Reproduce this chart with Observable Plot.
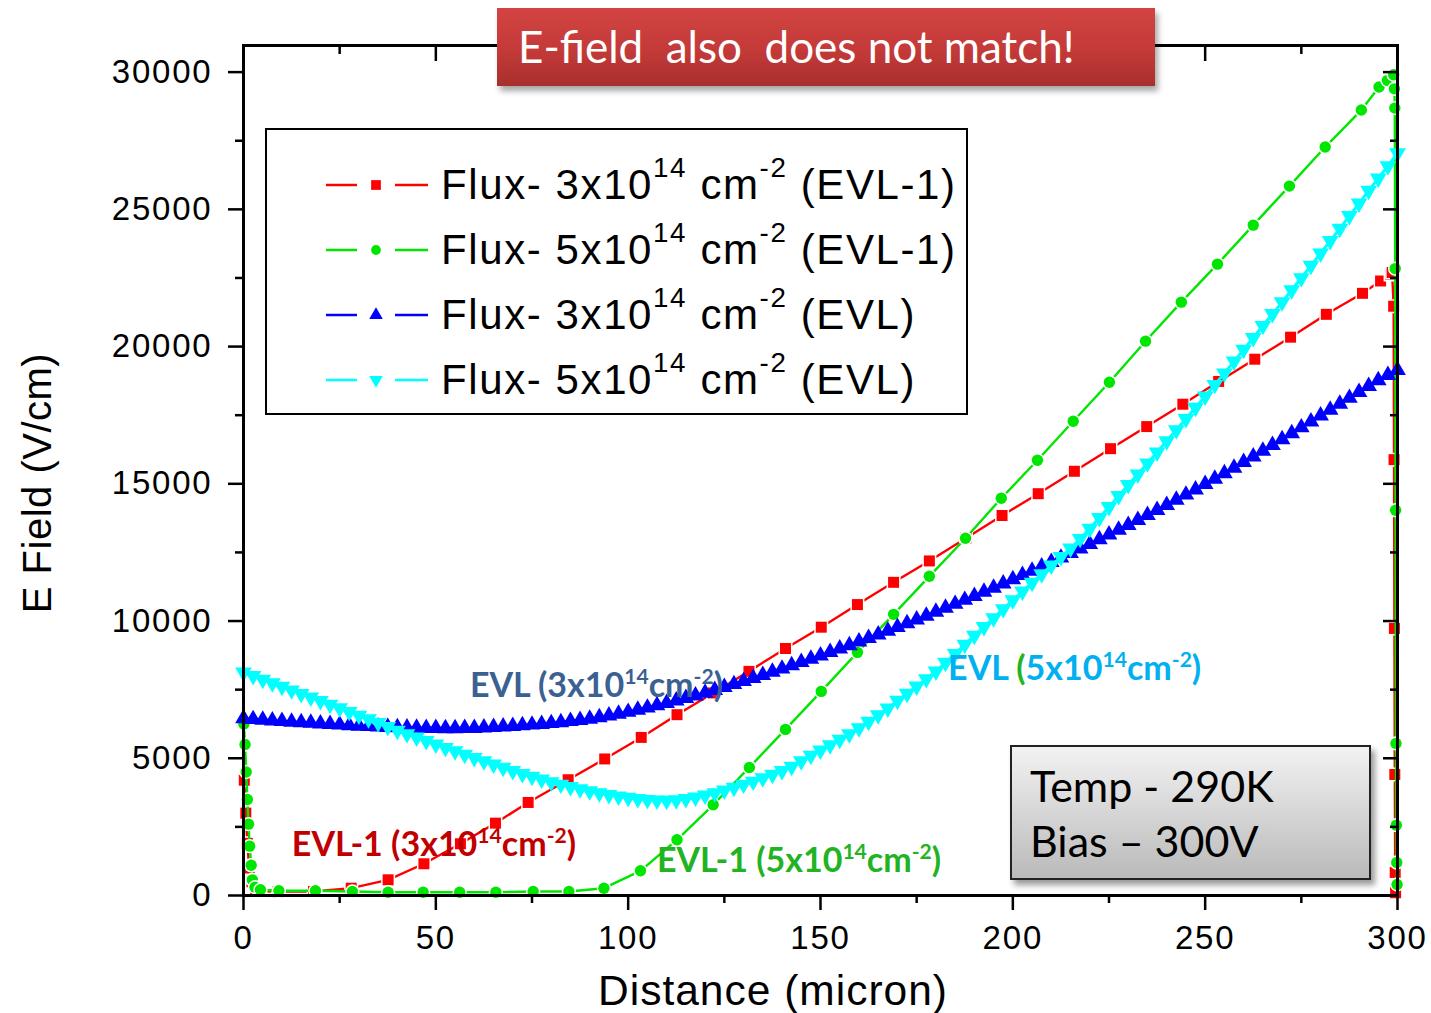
<!DOCTYPE html>
<html><head><meta charset="utf-8">
<script src="https://cdn.jsdelivr.net/npm/d3@7"></script>
<script src="https://cdn.jsdelivr.net/npm/@observablehq/plot@0.6"></script>
<style>
body{margin:0;background:#fff;}
#wrap{position:relative;width:1431px;height:1013px;overflow:hidden;background:#fff;}
#wrap svg.chart{position:absolute;left:0;top:0;}
g[aria-label$="tick label"] text{letter-spacing:1.8px;}
.abs{position:absolute;white-space:nowrap;}
.ann{font-family:Lato,"Open Sans",sans-serif;font-weight:700;font-size:34px;transform:translateY(-50%);line-height:1;}
.ann sup{font-size:0.62em;vertical-align:0.62em;line-height:0;}
#legend{left:265px;top:128px;width:703px;height:287px;border:2.5px solid #000;background:#fff;box-sizing:border-box;}
.lrow{position:absolute;left:58px;height:60px;display:flex;align-items:center;font-family:"Liberation Sans",Arial,sans-serif;font-size:42px;letter-spacing:1.6px;color:#000;}
.lrow sup{font-size:0.66em;vertical-align:0.78em;line-height:0;}
.lrow svg{margin-right:12px;}
#title{left:497px;top:8px;width:658px;height:78px;background:linear-gradient(#d24442,#c33a38 55%,#a82f2d);box-shadow:3px 5px 6px rgba(0,0,0,0.35);}
#title span{position:absolute;left:21px;top:50%;transform:translateY(-52%);font-family:Lato,"Open Sans",sans-serif;font-size:44px;color:#fff;white-space:pre;line-height:1;}
#info{left:1010px;top:745px;width:361px;height:135px;border:2px solid #222;box-sizing:border-box;background:linear-gradient(#f2f2f2,#d6d6d6 50%,#bababa);box-shadow:4px 5px 6px rgba(0,0,0,0.4);}
#info div{position:absolute;left:18px;font-family:Lato,"Open Sans",sans-serif;font-size:43px;color:#000;transform:translateY(-50%);line-height:1;}
.axt{font-family:"Liberation Sans",Arial,sans-serif;color:#000;line-height:1;}
</style></head><body><div id="wrap"></div>
<script>
// ---------- data ----------
const redDistance = [0.2,0.6,1.0,1.5,2.2,3.2,4.4,9.0,18.2,28,37.6,46.9,56.4,65.5,74,84.4,93.9,103.4,112.7,122.1,131.4,140.9,150.2,159.6,169.0,178.3,187.8,197.2,206.6,216,225.4,234.8,244.2,253.5,262.9,272.2,281.5,290.9,295.6,298.2,298.6,299.0,299.1,299.2,299.3,299.4,299.5];
const redField = [4200,3000,1900,1000,500,250,150,140,146,266,572,1156,1885,2636,3390,4218,4975,5760,6588,7380,8166,9000,9776,10600,11411,12190,13020,13845,14640,15457,16280,17085,17900,18730,19540,20343,21175,21940,22390,22630,22700,21470,15880,9730,4410,840,100];

const greenDistance = [0.1,0.4,0.7,1.0,1.3,1.6,2.0,2.3,3.0,4.4,9.2,18.7,28.3,37.6,46.7,56.2,65.6,75.3,84.6,93.7,103.2,112.7,122.1,131.5,140.9,150.2,159.6,169,178.3,187.7,197,206.4,215.7,225.1,234.5,243.8,253.2,262.5,271.9,281.2,290.6,295.2,297.4,299.0,299.2,299.3,299.4,299.5,299.6,299.7,299.8,299.9];
const greenField = [6250,5500,4500,3500,2600,1800,1100,570,300,208,171,171,146,120,120,120,120,146,146,266,900,2030,3306,4666,6052,7437,8859,10244,11630,13015,14473,15858,17281,18702,20197,21619,23004,24426,25848,27270,28618,29457,29700,29905,29391,28690,22840,14036,5541,2563,1200,400];

const evlDistance = [0,2.5,5,7.5,10,12.5,15,17.5,20,22.5,25,27.5,30,32.5,35,37.5,40,42.5,45,47.5,50,52.5,55,57.5,60,62.5,65,67.5,70,72.5,75,77.5,80,82.5,85,87.5,90,92.5,95,97.5,100,102.5,105,107.5,110,112.5,115,117.5,120,122.5,125,127.5,130,132.5,135,137.5,140,142.5,145,147.5,150,152.5,155,157.5,160,162.5,165,167.5,170,172.5,175,177.5,180,182.5,185,187.5,190,192.5,195,197.5,200,202.5,205,207.5,210,212.5,215,217.5,220,222.5,225,227.5,230,232.5,235,237.5,240,242.5,245,247.5,250,252.5,255,257.5,260,262.5,265,267.5,270,272.5,275,277.5,280,282.5,285,287.5,290,292.5,295,297.5,300];
const blueField = [6450,6420,6395,6370,6350,6325,6305,6285,6260,6240,6220,6200,6180,6165,6150,6135,6125,6115,6105,6100,6095,6090,6090,6095,6100,6115,6130,6150,6170,6195,6220,6245,6275,6310,6350,6390,6435,6490,6550,6615,6685,6760,6840,6925,7010,7100,7190,7285,7385,7485,7590,7695,7805,7915,8030,8145,8260,8380,8500,8620,8740,8865,8990,9115,9245,9375,9505,9640,9775,9910,10050,10190,10330,10475,10620,10765,10910,11060,11210,11360,11515,11670,11825,11985,12145,12305,12470,12635,12805,12975,13145,13320,13495,13675,13855,14040,14225,14410,14600,14790,14985,15180,15380,15580,15785,15990,16200,16410,16620,16835,17050,17265,17480,17695,17910,18125,18340,18555,18770,18960,19140];
const cyanField = [8130,8000,7870,7740,7610,7480,7350,7220,7090,6960,6830,6695,6560,6425,6290,6150,6010,5885,5760,5635,5510,5385,5260,5135,5015,4895,4775,4660,4545,4435,4330,4230,4135,4045,3960,3880,3805,3735,3670,3615,3565,3525,3490,3470,3460,3480,3520,3580,3650,3730,3835,3935,4045,4155,4275,4405,4545,4700,4900,5100,5290,5480,5680,5880,6100,6335,6570,6820,7100,7360,7620,7890,8170,8490,8810,9140,9470,9790,10110,10440,10760,11080,11400,11710,12030,12340,12650,13000,13370,13760,14160,14560,14960,15350,15750,16150,16560,16960,17370,17780,18190,18610,19030,19460,19890,20320,20760,21190,21620,22060,22500,22950,23400,23850,24300,24760,25220,25680,26130,26580,27050];

const seriesNames = ["EVL-1 3e14","EVL-1 5e14","EVL 3e14","EVL 5e14"];
const seriesColors = ["#ff0000","#00e600","#0000ff","#00ffff"];
const fluxLabels = ["3","5","3","5"];
const modelLabels = ["EVL-1","EVL-1","EVL","EVL"];

const xMajor = [0,50,100,150,200,250,300];
const xMinor = [25,75,125,175,225,275];
const yMajor = [0,5000,10000,15000,20000,25000,30000];
const yMinor = [2500,7500,12500,17500,22500,27500];

const annTexts = [
  {pre:"EVL (3x10", sup1:"14", mid:"cm", sup2:"-2", post:")", x:59.0, y:7692, color:"#3a6192"},
  {pre:"EVL-1 (3x10", sup1:"14", mid:"cm", sup2:"-2", post:")", x:12.7, y:1896, color:"#c00000"},
  {pre:"EVL-1 (5x10", sup1:"14", mid:"cm", sup2:"-2", post:")", x:107.6, y:1312, color:"#22b322"},
  {pre:"EVL ", paren:"(", pre2:"5x10", sup1:"14", mid:"cm", sup2:"-2", post:")", x:183.3, y:8312, color:"#00b0f0", parenColor:"#22b322"}
];

// ---------- tables ----------
const red = redDistance.map((d,i)=>({x:d, y:redField[i]}));
const green = greenDistance.map((d,i)=>({x:d, y:greenField[i]}));
const blue = evlDistance.map((d,i)=>({x:d, y:blueField[i]}));
const cyan = evlDistance.map((d,i)=>({x:d, y:cyanField[i]}));

const fmt = d3.format("d");
const axisCommon = {label:null, strokeWidth:2.5};
const blank = () => "";

const plot = Plot.plot({
  width:1431, height:1013,
  marginLeft:243, marginRight:34, marginTop:45, marginBottom:118,
  x:{domain:[0,300], label:null},
  y:{domain:[0,30970], label:null},
  style:{fontFamily:"'Liberation Sans', Arial, sans-serif", fontSize:"33px", color:"#000", background:"transparent", overflow:"visible"},
  marks:[
    Plot.line(red, {x:"x", y:"y", stroke:seriesColors[0], strokeWidth:2.4}),
    Plot.dot(red, {x:"x", y:"y", symbol:"square", r:6.2, fill:seriesColors[0], stroke:"#fff", strokeWidth:3, paintOrder:"stroke"}),
    Plot.line(green, {x:"x", y:"y", stroke:seriesColors[1], strokeWidth:2.4}),
    Plot.dot(green, {x:"x", y:"y", symbol:"circle", r:5.7, fill:seriesColors[1], stroke:"#fff", strokeWidth:3, paintOrder:"stroke"}),
    Plot.line(blue, {x:"x", y:"y", stroke:seriesColors[2], strokeWidth:3}),
    Plot.dot(blue, {x:"x", y:"y", symbol:"triangle", r:6.2, fill:seriesColors[2], stroke:"none"}),
    Plot.line(cyan, {x:"x", y:"y", stroke:seriesColors[3], strokeWidth:3}),
    Plot.dot(cyan, {x:"x", y:"y", symbol:"triangle", rotate:180, r:6.2, fill:seriesColors[3], stroke:"none"}),
    Plot.frame({stroke:"#000", strokeWidth:3}),
    Plot.axisX(xMajor, {...axisCommon, anchor:"bottom", tickSize:15, tickPadding:15, tickFormat:fmt, fontSize:33}),
    Plot.axisX(xMinor, {...axisCommon, anchor:"bottom", tickSize:8, tickFormat:blank}),
    Plot.axisX(xMajor, {...axisCommon, anchor:"top", tickSize:-15, tickFormat:blank}),
    Plot.axisX(xMinor, {...axisCommon, anchor:"top", tickSize:-8, tickFormat:blank}),
    Plot.axisY(yMajor, {...axisCommon, anchor:"left", tickSize:15, tickPadding:16, tickFormat:fmt, fontSize:33}),
    Plot.axisY(yMinor, {...axisCommon, anchor:"left", tickSize:8, tickFormat:blank}),
    Plot.axisY(yMajor, {...axisCommon, anchor:"right", tickSize:-15, tickFormat:blank}),
    Plot.axisY(yMinor, {...axisCommon, anchor:"right", tickSize:-8, tickFormat:blank})
  ]
});
plot.classList.add("chart");
const wrap = document.getElementById("wrap");
wrap.appendChild(plot);

const sx = plot.scale("x"), sy = plot.scale("y");

// ---------- annotations placed through the scales ----------
for (const a of annTexts) {
  const el = document.createElement("div");
  el.className = "abs ann";
  el.style.left = sx.apply(a.x) + "px";
  el.style.top = sy.apply(a.y) + "px";
  el.style.color = a.color;
  el.innerHTML = a.paren
    ? `${a.pre}<span style="color:${a.parenColor}">${a.paren}</span>${a.pre2}<sup>${a.sup1}</sup>${a.mid}<sup>${a.sup2}</sup>${a.post}`
    : `${a.pre}<sup>${a.sup1}</sup>${a.mid}<sup>${a.sup2}</sup>${a.post}`;
  wrap.appendChild(el);
}

// ---------- legend ----------
const legend = document.createElement("div");
legend.id = "legend"; legend.className = "abs";
const symbols = [d3.symbolSquare, d3.symbolCircle, d3.symbolTriangle, d3.symbolTriangle];
const symSizes = [95, 75, 80, 80];
seriesNames.forEach((name, i) => {
  const row = document.createElement("div");
  row.className = "lrow";
  row.style.top = (25 + i*65) + "px";
  const path = d3.symbol(symbols[i], symSizes[i])();
  const rot = i === 3 ? "rotate(180)" : "";
  row.innerHTML = `<svg width="104" height="20" aria-label="${name}"><line x1="1" x2="32" y1="10" y2="10" stroke="${seriesColors[i]}" stroke-width="2.5"/><line x1="70" x2="103" y1="10" y2="10" stroke="${seriesColors[i]}" stroke-width="2.5"/><path transform="translate(51,10) ${rot}" d="${path}" fill="${seriesColors[i]}"/></svg>` +
    `<span>Flux- ${fluxLabels[i]}x10<sup>14</sup> cm<sup>-2</sup> (${modelLabels[i]})</span>`;
  legend.appendChild(row);
});
wrap.appendChild(legend);

// ---------- title & info ----------
const title = document.createElement("div");
title.id = "title"; title.className = "abs";
title.innerHTML = `<span>E-field  also  does not match!</span>`;
wrap.appendChild(title);

const info = document.createElement("div");
info.id = "info"; info.className = "abs";
info.innerHTML = `<div style="top:38px">Temp - 290K</div><div style="top:93px">Bias \u2013 300V</div>`;
wrap.appendChild(info);

// ---------- axis titles ----------
const xt = document.createElement("div");
xt.className = "abs axt";
xt.style.cssText += "left:773px;top:991px;transform:translate(-50%,-50%);font-size:42.5px;letter-spacing:1px;";
xt.textContent = "Distance (micron)";
wrap.appendChild(xt);
const yt = document.createElement("div");
yt.className = "abs axt";
yt.style.cssText += "left:37px;top:483px;transform:translate(-50%,-50%) rotate(-90deg);font-size:40px;letter-spacing:0.5px;";
yt.textContent = "E Field (V/cm)";
wrap.appendChild(yt);
</script></body></html>
